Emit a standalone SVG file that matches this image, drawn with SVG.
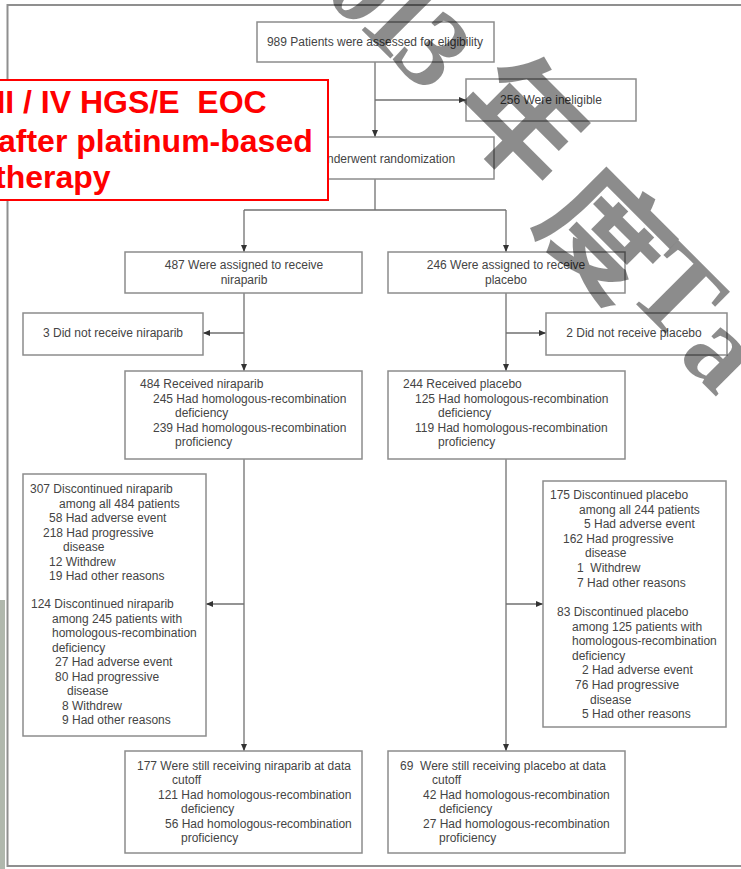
<svg xmlns="http://www.w3.org/2000/svg" width="741" height="869" viewBox="0 0 741 869">
  <style>
    .box { fill: #ffffff; stroke: #8c8c8c; stroke-width: 1.5; }
    .t { font-family: "Liberation Sans", Arial, sans-serif; font-size: 12px; fill: #444444; }
    .c { text-anchor: middle; }
    .ln { stroke: #707070; stroke-width: 1.3; fill: none; }
    .red { font-family: "Liberation Sans", Arial, sans-serif; font-size: 32px; font-weight: bold; fill: #ff0000; }
    .wmL { font-family: "Liberation Serif", "Times New Roman", serif; font-weight: bold; text-anchor: middle; dominant-baseline: central; }
    .wmC { font-family: "Noto Sans CJK SC", "Noto Sans CJK JP", sans-serif; font-weight: bold; text-anchor: middle; dominant-baseline: central; }
  </style>
  <defs>
    <marker id="arr" markerUnits="userSpaceOnUse" markerWidth="7" markerHeight="6" refX="7" refY="3" orient="auto">
      <path d="M0,0 L7,3 L0,6 z" fill="#333333"/>
    </marker>
  </defs>

  <rect width="741" height="869" fill="#ffffff"/>
  <!-- photo edge on the far left -->
  <rect x="0" y="600" width="5" height="269" fill="#6f7d6a" opacity="0.55"/>
  <!-- outer frame -->
  <rect x="7.5" y="5" width="740" height="861" fill="none" stroke="#8f8f8f" stroke-width="2"/>

  <!-- connectors -->
  <g id="connectors" class="ln">
    <path d="M375,62 V137" marker-end="url(#arr)"/>
    <path d="M375,100 H466" marker-end="url(#arr)"/>
    <path d="M375,179 V210"/>
    <path d="M244,210 H506"/>
    <path d="M244,210 V252" marker-end="url(#arr)"/>
    <path d="M506,210 V252" marker-end="url(#arr)"/>
    <path d="M244,293 V371" marker-end="url(#arr)"/>
    <path d="M244,333 H203" marker-end="url(#arr)"/>
    <path d="M506,293 V371" marker-end="url(#arr)"/>
    <path d="M506,333 H546" marker-end="url(#arr)"/>
    <path d="M244,459 V751" marker-end="url(#arr)"/>
    <path d="M244,604 H206" marker-end="url(#arr)"/>
    <path d="M506,459 V751" marker-end="url(#arr)"/>
    <path d="M506,604 H543" marker-end="url(#arr)"/>
  </g>

  <g id="assessed">
    <rect class="box" x="257" y="22" width="237" height="40"/>
    <text class="t c" x="375" y="46">989 Patients were assessed for eligibility</text>
  </g>
  <g id="ineligible">
    <rect class="box" x="466" y="79" width="170" height="42"/>
    <text class="t c" x="551" y="104">256 Were ineligible</text>
  </g>
  <g id="randomized">
    <rect class="box" x="257" y="137" width="237" height="42"/>
    <text class="t" x="327" y="163">nderwent randomization</text>
  </g>

  <g id="assigned-niraparib">
    <rect class="box" x="125" y="252" width="237" height="41"/>
    <text class="t c" x="244" y="269">487 Were assigned to receive</text>
    <text class="t c" x="244" y="284">niraparib</text>
  </g>
  <g id="assigned-placebo">
    <rect class="box" x="388" y="252" width="237" height="41"/>
    <text class="t c" x="506" y="269">246 Were assigned to receive</text>
    <text class="t c" x="506" y="284">placebo</text>
  </g>

  <g id="not-niraparib">
    <rect class="box" x="23" y="313" width="180" height="42"/>
    <text class="t c" x="113" y="337">3 Did not receive niraparib</text>
  </g>
  <g id="not-placebo">
    <rect class="box" x="546" y="313" width="181" height="42"/>
    <text class="t c" x="634" y="337">2 Did not receive placebo</text>
  </g>

  <g id="received-niraparib">
    <rect class="box" x="125" y="371" width="237" height="88"/>
    <text class="t" x="140" y="388">484 Received niraparib</text>
    <text class="t" x="153" y="402.5">245 Had homologous-recombination</text>
    <text class="t" x="175" y="417">deficiency</text>
    <text class="t" x="153" y="431.5">239 Had homologous-recombination</text>
    <text class="t" x="175" y="446">proficiency</text>
  </g>
  <g id="received-placebo">
    <rect class="box" x="388" y="371" width="237" height="88"/>
    <text class="t" x="403" y="388">244 Received placebo</text>
    <text class="t" x="415" y="402.5">125 Had homologous-recombination</text>
    <text class="t" x="438" y="417">deficiency</text>
    <text class="t" x="415" y="431.5">119 Had homologous-recombination</text>
    <text class="t" x="438" y="446">proficiency</text>
  </g>

  <g id="discontinued-niraparib">
    <rect class="box" x="23" y="474" width="183" height="262"/>
    <text class="t" x="30" y="493">307 Discontinued niraparib</text>
    <text class="t" x="59" y="507.5">among all 484 patients</text>
    <text class="t" x="49" y="522">58 Had adverse event</text>
    <text class="t" x="43" y="536.5">218 Had progressive</text>
    <text class="t" x="63" y="551">disease</text>
    <text class="t" x="49" y="565.5">12 Withdrew</text>
    <text class="t" x="49" y="580">19 Had other reasons</text>
    <text class="t" x="31" y="608">124 Discontinued niraparib</text>
    <text class="t" x="52" y="622.5">among 245 patients with</text>
    <text class="t" x="52" y="637">homologous-recombination</text>
    <text class="t" x="52" y="651.5">deficiency</text>
    <text class="t" x="55" y="666">27 Had adverse event</text>
    <text class="t" x="55" y="680.5">80 Had progressive</text>
    <text class="t" x="67" y="695">disease</text>
    <text class="t" x="62" y="709.5">8 Withdrew</text>
    <text class="t" x="62" y="724">9 Had other reasons</text>
  </g>
  <g id="discontinued-placebo">
    <rect class="box" x="543" y="481" width="183" height="246"/>
    <text class="t" x="550" y="499">175 Discontinued placebo</text>
    <text class="t" x="579" y="513.6">among all 244 patients</text>
    <text class="t" x="584" y="528.2">5 Had adverse event</text>
    <text class="t" x="563" y="542.8">162 Had progressive</text>
    <text class="t" x="585" y="557.4">disease</text>
    <text class="t" x="577" y="572" xml:space="preserve">1  Withdrew</text>
    <text class="t" x="577" y="586.6">7 Had other reasons</text>
    <text class="t" x="557" y="616">83 Discontinued placebo</text>
    <text class="t" x="572" y="630.6">among 125 patients with</text>
    <text class="t" x="572" y="645.2">homologous-recombination</text>
    <text class="t" x="572" y="659.8">deficiency</text>
    <text class="t" x="582" y="674.4">2 Had adverse event</text>
    <text class="t" x="575" y="689">76 Had progressive</text>
    <text class="t" x="590" y="703.6">disease</text>
    <text class="t" x="582" y="718.2">5 Had other reasons</text>
  </g>

  <g id="continuing-niraparib">
    <rect class="box" x="125" y="751" width="237" height="102"/>
    <text class="t" x="137" y="770">177 Were still receiving niraparib at data</text>
    <text class="t" x="172" y="784.4">cutoff</text>
    <text class="t" x="158" y="798.8">121 Had homologous-recombination</text>
    <text class="t" x="181" y="813.2">deficiency</text>
    <text class="t" x="165" y="827.6">56 Had homologous-recombination</text>
    <text class="t" x="181" y="842">proficiency</text>
  </g>
  <g id="continuing-placebo">
    <rect class="box" x="388" y="751" width="237" height="102"/>
    <text class="t" x="400" y="770" xml:space="preserve">69  Were still receiving placebo at data</text>
    <text class="t" x="432" y="784.4">cutoff</text>
    <text class="t" x="423" y="798.8">42 Had homologous-recombination</text>
    <text class="t" x="439" y="813.2">deficiency</text>
    <text class="t" x="423" y="827.6">27 Had homologous-recombination</text>
    <text class="t" x="439" y="842">proficiency</text>
  </g>

  <!-- highlighted callout, running off the left edge -->
  <g id="callout">
    <rect x="-5" y="80" width="333" height="120" fill="#ffffff" stroke="#ff0000" stroke-width="2"/>
    <text class="red" x="-3.6" y="113" xml:space="preserve">II / IV HGS/E  EOC</text>
    <text class="red" x="-2" y="152">after platinum-based</text>
    <text class="red" x="-5" y="188">therapy</text>
  </g>

  <!-- diagonal watermark -->
  <g id="watermark" fill="#000000" fill-opacity="0.45">
    <text class="wmL" font-size="110" transform="translate(366,-14) rotate(45)">0</text>
    <text class="wmL" font-size="110" transform="translate(401,17) rotate(45)">1</text>
    <text class="wmL" font-size="110" transform="translate(434,50) rotate(45)">3</text>
    <text class="wmC" font-size="122" transform="translate(530,114) rotate(45)">年</text>
    <text class="wmC" font-size="122" transform="translate(612,228) rotate(45)">度</text>
    <text class="wmL" font-size="115" transform="translate(678,292) rotate(45)">T</text>
    <text class="wmL" font-size="115" transform="translate(724,350) rotate(45)">a</text>
  </g>
</svg>
